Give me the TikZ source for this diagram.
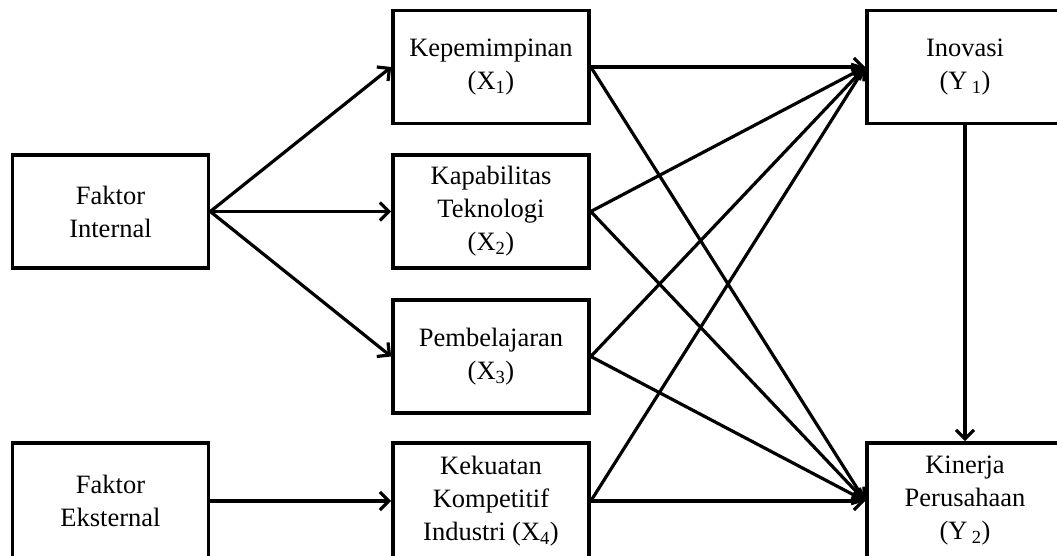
\documentclass[tikz,border=0pt]{standalone}
\usepackage{fontspec}
\setmainfont{Liberation Serif}
\usetikzlibrary{arrows.meta}
\begin{document}
\begin{tikzpicture}[x=1pt,y=-1pt,
  box/.style={draw, line width=3.6pt, minimum width=196pt, minimum height=113pt,
    align=center, inner sep=0pt, font=\fontsize{26.5}{33}\selectfont},
  lowbox/.style={box, minimum height=116pt},
  link/.style={line width=3.2pt, -{Straight Barb[length=9pt,width=18pt,line width=3.2pt]}}]
  \fill[white] (0,0) rectangle (1057,556);
  \useasboundingbox (0,0) rectangle (1057,556);
  \clip (0,0) rectangle (1057,556);

  % sources
  \node[box] (fi) at (110.5,211.5) {Faktor\\Internal};
  \node[lowbox] (fe) at (110.5,501) {Faktor\\Eksternal};

  % mediating variables
  \node[box] (x1) at (491,67) {Kepemimpinan\\(X\textsubscript{1})};
  \node[box] (x2) at (491,211.5) {Kapabilitas\\Teknologi\\(X\textsubscript{2})};
  \node[box] (x3) at (491,356.5) {Pembelajaran\\(X\textsubscript{3})};
  \node[lowbox] (x4) at (491,501) {Kekuatan\\Kompetitif\\Industri (X\textsubscript{4})};

  % outcomes
  \node[box] (y1) at (965,67) {Inovasi\\(Y\,\textsubscript{1})};
  \node[lowbox] (y2) at (965,501) {Kinerja\\Perusahaan\\(Y\,\textsubscript{2})};

  % internal and external factors
  \draw[link] (fi.east) -- (x1.west);
  \draw[link] (fi.east) -- (x2.west);
  \draw[link] (fi.east) -- (x3.west);
  \draw[link] (fe.east) -- (x4.west);

  % paths to innovation and performance
  \foreach \s in {x1,x2,x3,x4} {
    \draw[link] (\s.east) -- (y1.west);
    \draw[link] (\s.east) -- (y2.west);
  }
  \draw[link] (y1.south) -- (y2.north);
\end{tikzpicture}
\end{document}
